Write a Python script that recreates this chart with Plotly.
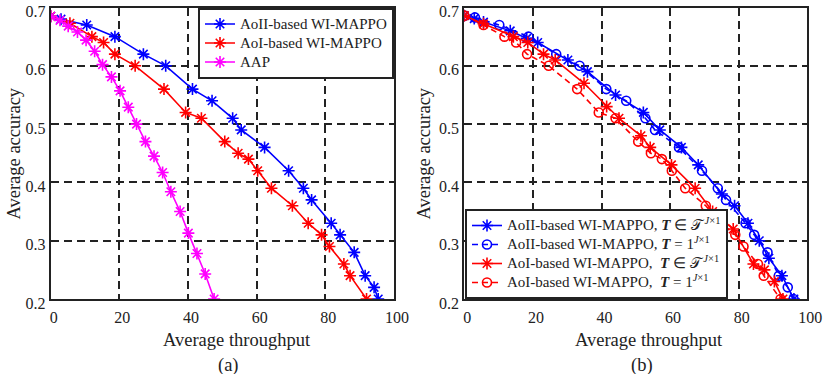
import plotly.graph_objects as go

# (a) throughput vs accuracy
aoii_x = [0, 3, 10.5, 18.7, 27, 33.5, 41.3, 47, 53, 55.5, 62.3, 69.3, 73.6, 76, 81.7, 84.3, 88.4, 91.6, 94.2, 95.4]
aoii_y = [0.685, 0.68, 0.67, 0.65, 0.62, 0.60, 0.56, 0.54, 0.51, 0.49, 0.46, 0.42, 0.39, 0.37, 0.33, 0.31, 0.28, 0.24, 0.22, 0.2]
aoi_x = [0, 5.6, 12, 15.4, 18.7, 24.6, 33, 39.3, 43.9, 50.7, 54.6, 57.6, 60.3, 64.3, 70.4, 75, 78.9, 81.2, 85.4, 87.2, 92]
aoi_y = [0.685, 0.673, 0.65, 0.64, 0.62, 0.60, 0.56, 0.52, 0.51, 0.47, 0.45, 0.44, 0.42, 0.39, 0.36, 0.33, 0.31, 0.29, 0.26, 0.24, 0.2]
aap_x = [0, 2.7, 5.1, 7.8, 10.3, 12.8, 15.1, 17.7, 20.2, 22.6, 25, 27.6, 30.1, 32.6, 35, 37.7, 40.1, 42.6, 45, 47.6]
aap_y = [0.685, 0.678, 0.668, 0.658, 0.644, 0.625, 0.602, 0.581, 0.557, 0.529, 0.5, 0.47, 0.445, 0.417, 0.384, 0.35, 0.313, 0.278, 0.243, 0.2]

# (b) variable vs fixed T
aoii_var_x = [0, 2.9, 5.6, 13.4, 18.2, 21.4, 30.2, 35.9, 44.1, 52.2, 57, 63.3, 68.2, 75.1, 78.8, 82.7, 86, 88.8, 92.6, 96.1]
aoii_var_y = [0.686, 0.681, 0.675, 0.66, 0.647, 0.64, 0.61, 0.59, 0.55, 0.52, 0.49, 0.46, 0.43, 0.38, 0.36, 0.33, 0.30, 0.27, 0.24, 0.2]
aoii_fix_x = [0, 3.1, 10.2, 18.7, 26.8, 33.6, 41.4, 47.2, 52.8, 55.6, 62.6, 69.3, 73.9, 76.3, 82, 84.5, 88.4, 91.7, 94.3, 96]
aoii_fix_y = [0.686, 0.683, 0.67, 0.65, 0.62, 0.60, 0.56, 0.54, 0.51, 0.49, 0.46, 0.42, 0.39, 0.37, 0.33, 0.31, 0.28, 0.24, 0.22, 0.2]
aoi_var_x = [0, 5.6, 14.3, 18.5, 23.1, 26.5, 34.9, 41.5, 45.1, 51.5, 54.2, 60.4, 67.3, 72.4, 78.4, 84.3, 87.5, 90.4, 92.9]
aoi_var_y = [0.686, 0.672, 0.65, 0.64, 0.62, 0.61, 0.57, 0.53, 0.51, 0.48, 0.46, 0.43, 0.39, 0.35, 0.32, 0.26, 0.25, 0.23, 0.2]
aoi_fix_x = [0, 5.6, 11.7, 15.1, 18.3, 24.6, 32.9, 39.2, 44.1, 50.7, 54.4, 57.6, 60.5, 64.4, 70.4, 74.8, 79, 81.4, 85.6, 87.3, 92.2]
aoi_fix_y = [0.686, 0.67, 0.65, 0.64, 0.62, 0.60, 0.56, 0.52, 0.51, 0.47, 0.45, 0.44, 0.42, 0.39, 0.36, 0.33, 0.31, 0.29, 0.26, 0.24, 0.2]

xticks = [0, 20, 40, 60, 80, 100]
yticks = [0.2, 0.3, 0.4, 0.5, 0.6, 0.7]

FONT = "Liberation Serif"
W, H = 830, 374

fig = go.Figure()

def big(s):
    # legend rows are spaced from the legend font size, text drawn larger
    return '<span style="font-size:15px">' + s + '</span>'

def star(x, y, color, name, xa, ya, legend):
    fig.add_trace(go.Scatter(x=x, y=y, mode="lines+markers", name=big(name),
                             xaxis=xa, yaxis=ya, legend=legend,
                             line=dict(color=color, width=1.6),
                             marker=dict(symbol="asterisk-open", size=10,
                                         line=dict(color=color, width=1.6))))

def circ(x, y, color, name, xa, ya, legend):
    fig.add_trace(go.Scatter(x=x, y=y, mode="lines+markers", name=big(name),
                             xaxis=xa, yaxis=ya, legend=legend,
                             line=dict(color=color, width=1.6, dash="6px,4px"),
                             marker=dict(symbol="circle-open", size=9,
                                         line=dict(color=color, width=1.6))))

star(aoii_x, aoii_y, "#0000ff", "AoII-based WI-MAPPO", "x", "y", "legend")
star(aoi_x, aoi_y, "#ff0000", "AoI-based WI-MAPPO", "x", "y", "legend")
star(aap_x, aap_y, "#ff00ff", "AAP", "x", "y", "legend")

tset = "<b><i>T</i></b> ∈ 𝒯<sup> <i>J</i>×1</sup>"
tone = "<b><i>T</i></b> = 1<sup><i>J</i>×1</sup>"
star(aoii_var_x, aoii_var_y, "#0000ff", "AoII-based WI-MAPPO, " + tset, "x2", "y2", "legend2")
circ(aoii_fix_x, aoii_fix_y, "#0000ff", "AoII-based WI-MAPPO, " + tone, "x2", "y2", "legend2")
star(aoi_var_x, aoi_var_y, "#ff0000", "AoI-based WI-MAPPO,  " + tset, "x2", "y2", "legend2")
circ(aoi_fix_x, aoi_fix_y, "#ff0000", "AoI-based WI-MAPPO,  " + tone, "x2", "y2", "legend2")

ax = dict(showline=True, linecolor="#222222", linewidth=2, mirror="ticks",
          ticks="inside", ticklen=5, tickcolor="#222222", tickwidth=1,
          showgrid=True, gridcolor="#222222", gridwidth=2, griddash="8px,5px",
          zeroline=False, automargin=False, ticklabeloverflow="allow",
          tickfont=dict(family=FONT, size=16, color="#222222"))

ydom = [1 - 299 / H, 1 - 7.5 / H]
fig.update_layout(
    template="none",
    width=W, height=H, margin=dict(l=0, r=0, t=0, b=0),
    plot_bgcolor="white", paper_bgcolor="white",
    font=dict(family=FONT, color="#222222"),
    xaxis=dict(ax, domain=[50.7 / W, 394 / W], range=[0, 100], tickvals=xticks,
               anchor="y", ticklabelshift=3, ticklabelstandoff=3),
    yaxis=dict(ax, domain=ydom, range=[0.2, 0.7], tickvals=yticks, tickformat=".1f",
               anchor="x", ticklabelshift=4),
    xaxis2=dict(ax, domain=[464.3 / W, 807.3 / W], range=[0, 100], tickvals=xticks,
                anchor="y2", ticklabelshift=3, ticklabelstandoff=3),
    yaxis2=dict(ax, domain=ydom, range=[0.2, 0.7], tickvals=yticks, tickformat=".1f",
                anchor="x2", ticklabelshift=4),
    legend=dict(x=394 / W, xanchor="right", y=1 - 7.5 / H, yanchor="top",
                bgcolor="white", bordercolor="#222222", borderwidth=2,
                font=dict(family=FONT, size=12), tracegroupgap=0, itemwidth=30),
    legend2=dict(x=465 / W, xanchor="left", y=1 - 299 / H, yanchor="bottom",
                 bgcolor="white", bordercolor="#222222", borderwidth=2,
                 font=dict(family=FONT, size=12), tracegroupgap=0, itemwidth=30),
    showlegend=True,
)

notes = [
    (13, 153.5, "Average accuracy", -90), (423, 153.5, "Average accuracy", -90),
    (236.5, 340, "Average throughput", 0), (649, 340, "Average throughput", 0),
    (228, 365, "(a)", 0), (642, 365, "(b)", 0),
]
for px, py, txt, ang in notes:
    fig.add_annotation(x=px / W, y=1 - py / H, xref="paper", yref="paper",
                       xanchor="center", yanchor="middle",
                       text=txt, textangle=ang, showarrow=False,
                       font=dict(family=FONT, size=18.5, color="#222222"))

fig.write_html("out.html", config={"displayModeBar": False},
               post_script="document.body.style.margin='0';")
